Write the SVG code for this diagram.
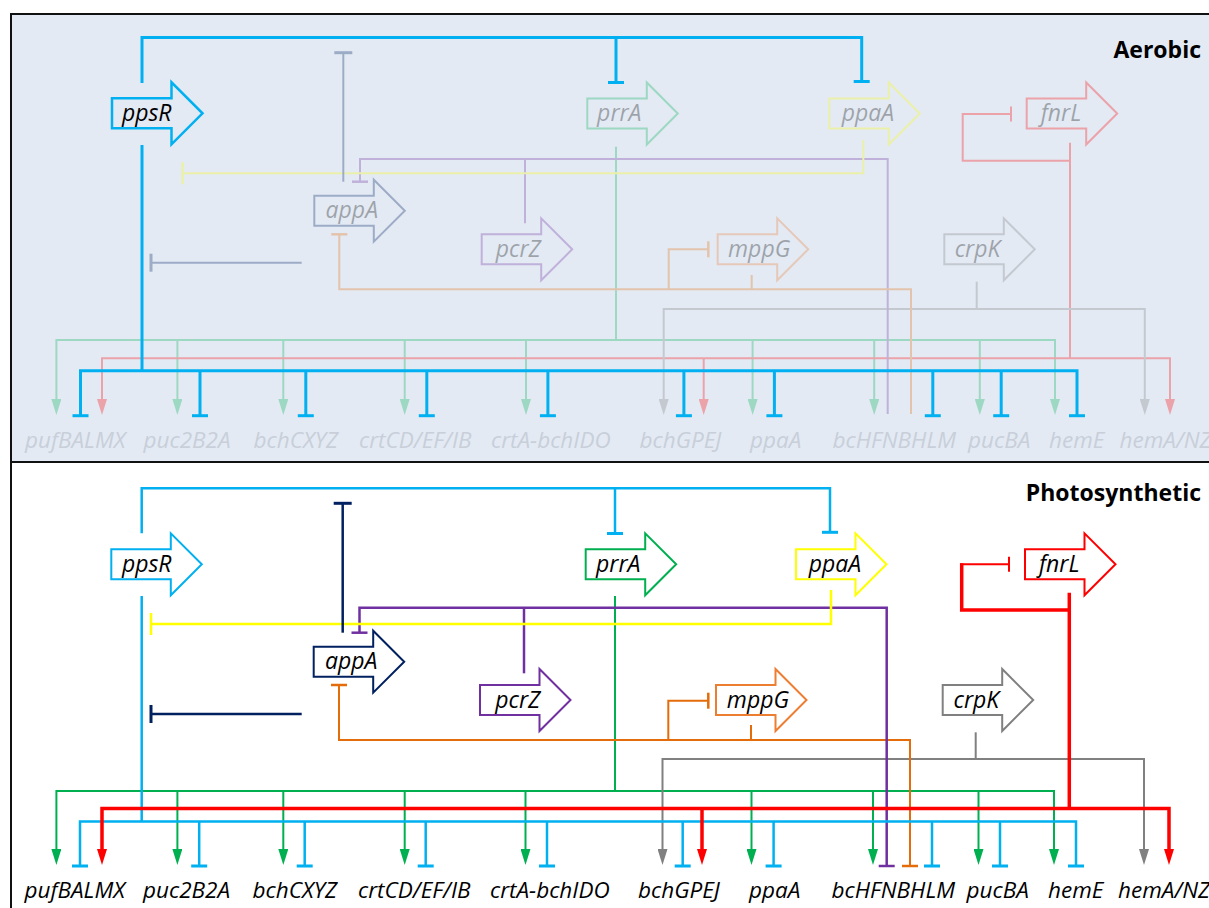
<svg xmlns="http://www.w3.org/2000/svg" width="1209" height="908" viewBox="0 0 1209 908">
<style>
.lbl{font-family:"Open Sans","Noto Sans","DejaVu Sans",sans-serif;font-style:italic;font-size:22.5px}
.nl{font-family:"Open Sans","Noto Sans","DejaVu Sans",sans-serif;font-style:italic;font-size:23px;text-anchor:middle;fill:#000}
.ttl{font-family:"Open Sans","Noto Sans","DejaVu Sans",sans-serif;font-weight:bold;font-size:23px;text-anchor:end;fill:#000}
.ln{fill:none;stroke-width:2}
.nd{fill:none;stroke-width:2}
.faded{opacity:.3}
.b{stroke:#00B0F0}.g{stroke:#00B050}.r{stroke:#FF0000}.k{stroke:#808080}.p{stroke:#7030A0}.o{stroke:#E46C0A}.y{stroke:#FFFF00}.n{stroke:#002060}
.top .lbl{fill:#C8CFD9}
.bot .lbl{fill:#000}
</style>
<defs>
<marker id="aG" viewBox="0 0 16 10" refX="8" refY="5" markerWidth="16" markerHeight="10" markerUnits="userSpaceOnUse" orient="auto-start-reverse"><path d="M0,0L16,5L0,10z" fill="#00B050"/></marker>
<marker id="aR" viewBox="0 0 16 10" refX="8" refY="5" markerWidth="16" markerHeight="10" markerUnits="userSpaceOnUse" orient="auto-start-reverse"><path d="M0,0L16,5L0,10z" fill="#FF0000"/></marker>
<marker id="aK" viewBox="0 0 16 10" refX="8" refY="5" markerWidth="16" markerHeight="10" markerUnits="userSpaceOnUse" orient="auto-start-reverse"><path d="M0,0L16,5L0,10z" fill="#808080"/></marker>
<marker id="tB" viewBox="-2 -9 4 18" refX="0" refY="0" markerWidth="4" markerHeight="18" markerUnits="userSpaceOnUse" orient="auto"><path d="M0,-8V8" stroke="#00B0F0" stroke-width="3"/></marker>
<marker id="tN" viewBox="-2 -10 4 20" refX="0" refY="0" markerWidth="4" markerHeight="20" markerUnits="userSpaceOnUse" orient="auto"><path d="M0,-9V9" stroke="#002060" stroke-width="3"/></marker>
<marker id="tY" viewBox="-2 -12 4 24" refX="0" refY="0" markerWidth="4" markerHeight="24" markerUnits="userSpaceOnUse" orient="auto"><path d="M0,-11V11" stroke="#FFFF00" stroke-width="2.5"/></marker>
<marker id="tP" viewBox="-2 -9 4 18" refX="0" refY="0" markerWidth="4" markerHeight="18" markerUnits="userSpaceOnUse" orient="auto"><path d="M0,-8V8" stroke="#7030A0" stroke-width="2.5"/></marker>
<marker id="tO" viewBox="-2 -9 4 18" refX="0" refY="0" markerWidth="4" markerHeight="18" markerUnits="userSpaceOnUse" orient="auto"><path d="M0,-8V8" stroke="#E46C0A" stroke-width="2.5"/></marker>
<marker id="tR" viewBox="-2 -9 4 18" refX="0" refY="0" markerWidth="4" markerHeight="18" markerUnits="userSpaceOnUse" orient="auto"><path d="M0,-7.5V7.5" stroke="#FF0000" stroke-width="2"/></marker>
</defs>

<!-- panels -->
<rect x="11" y="14" width="1210" height="448" fill="#E3EAF4" stroke="#111" stroke-width="2"/>
<rect x="11" y="462" width="1210" height="460" fill="#FFFFFF" stroke="#111" stroke-width="2"/>
<text class="ttl" x="1201" y="58">Aerobic</text>
<text class="ttl" x="1201" y="501">Photosynthetic</text>

<!-- ================= TOP PANEL (Aerobic) ================= -->
<g class="top">
<g id="top-connectors">
  <g class="faded">
    <g class="ln g">
      <path d="M616,146.7V340"/>
      <path d="M56.4,407V340H1055V407" marker-start="url(#aG)" marker-end="url(#aG)"/>
      <path d="M177.4,340V407" marker-end="url(#aG)"/>
      <path d="M283.3,340V407" marker-end="url(#aG)"/>
      <path d="M404.7,340V407" marker-end="url(#aG)"/>
      <path d="M526,340V407" marker-end="url(#aG)"/>
      <path d="M752.6,340V407" marker-end="url(#aG)"/>
      <path d="M874.2,340V407" marker-end="url(#aG)"/>
      <path d="M979.8,340V407" marker-end="url(#aG)"/>
    </g>
    <g class="ln r">
      <path d="M1070,142.7V358.3"/>
      <path d="M1070,160.7H962.7V114H1011" marker-end="url(#tR)"/>
      <path d="M102,407V358.3H1170V407" marker-start="url(#aR)" marker-end="url(#aR)"/>
      <path d="M703.7,358.3V407" marker-end="url(#aR)"/>
    </g>
    <g class="ln k">
      <path d="M976.7,281.7V309"/>
      <path d="M663.7,407V309H1144.8V407" marker-start="url(#aK)" marker-end="url(#aK)"/>
    </g>
    <g class="ln p">
      <path d="M360,181.7V159H887.7V414" marker-start="url(#tP)"/>
      <path d="M525,223.3V159"/>
    </g>
    <g class="ln o">
      <path d="M339.3,234.3V289.3H911V414" marker-start="url(#tO)"/>
      <path d="M668.7,289.3V249.3H708.3" marker-end="url(#tO)"/>
      <path d="M751.7,275V289.3"/>
    </g>
    <g class="ln y">
      <path d="M863.3,140V173.3H182.7" marker-end="url(#tY)"/>
    </g>
    <g class="ln n">
      <path d="M343.3,181.7V52.7" marker-end="url(#tN)"/>
      <path d="M301.7,262.7H151" marker-end="url(#tN)"/>
    </g>
  </g>
  <g class="ln b" style="stroke-width:3">
    <path d="M142,83V37.5H861.7V81.5" marker-end="url(#tB)"/>
    <path d="M616,37.5V82.5" marker-end="url(#tB)"/>
    <path d="M142,145V370.7"/>
    <path d="M80.5,415.7V370.7H1077V415.7" marker-start="url(#tB)" marker-end="url(#tB)"/>
    <path d="M200,370.7V415.7" marker-end="url(#tB)"/>
    <path d="M305.8,370.7V415.7" marker-end="url(#tB)"/>
    <path d="M426.8,370.7V415.7" marker-end="url(#tB)"/>
    <path d="M547.9,370.7V415.7" marker-end="url(#tB)"/>
    <path d="M683.9,370.7V415.7" marker-end="url(#tB)"/>
    <path d="M774.4,370.7V415.7" marker-end="url(#tB)"/>
    <path d="M932.8,370.7V415.7" marker-end="url(#tB)"/>
    <path d="M1001.2,370.7V415.7" marker-end="url(#tB)"/>
  </g>
</g>

<g id="top-ppsR"><path class="nd b" style="stroke-width:2.5" d="M112,98.3H171.5V82.3L202.5,113.3L171.5,144.3V128.3H112Z"/><text class="nl" x="146.7" y="121">ppsR</text></g>
<g id="top-prrA" class="faded"><path class="nd g" d="M587.3,98.5H646.8V82.5L677.8,113.5L646.8,144.5V128.5H587.3Z"/><text class="nl" x="619.3" y="121.2">prrA</text></g>
<g id="top-ppaA" class="faded"><path class="nd y" d="M829.3,98.5H888.8V82.5L919.8,113.5L888.8,144.5V128.5H829.3Z"/><text class="nl" x="867.9" y="121.2">ppaA</text></g>
<g id="top-fnrL" class="faded"><path class="nd r" d="M1026.7,98.5H1086.2V82.5L1117.2,113.5L1086.2,144.5V128.5H1026.7Z"/><text class="nl" x="1060.9" y="121.2">fnrL</text></g>
<g id="top-appA" class="faded"><path class="nd n" d="M314.3,195.7H373.8V179.7L404.8,210.7L373.8,241.7V225.7H314.3Z"/><text class="nl" x="351.8" y="218.4">appA</text></g>
<g id="top-pcrZ" class="faded"><path class="nd p" d="M481.7,234.3H541.2V218.3L572.2,249.3L541.2,280.3V264.3H481.7Z"/><text class="nl" x="518.3" y="257">pcrZ</text></g>
<g id="top-mppG" class="faded"><path class="nd" stroke="#ED7D31" d="M717.7,234.3H777.2V218.3L808.2,249.3L777.2,280.3V264.3H717.7Z"/><text class="nl" x="759.2" y="257">mppG</text></g>
<g id="top-crpK" class="faded"><path class="nd k" d="M944.3,234.3H1003.8V218.3L1034.8,249.3L1003.8,280.3V264.3H944.3Z"/><text class="nl" x="977.5" y="257">crpK</text></g>

<g id="top-genes">
  <text class="lbl" x="25" y="447.5">pufBALMX</text>
  <text class="lbl" x="143.5" y="447.5">puc2B2A</text>
  <text class="lbl" x="253.5" y="447.5">bchCXYZ</text>
  <text class="lbl" x="359" y="447.5">crtCD/EF/IB</text>
  <text class="lbl" x="491" y="447.5">crtA-bchIDO</text>
  <text class="lbl" x="639.5" y="447.5">bchGPEJ</text>
  <text class="lbl" x="750" y="447.5">ppaA</text>
  <text class="lbl" x="832.5" y="447.5">bcHFNBHLM</text>
  <text class="lbl" x="968" y="447.5">pucBA</text>
  <text class="lbl" x="1049" y="447.5">hemE</text>
  <text class="lbl" x="1119.5" y="447.5">hemA/NZ</text>
</g>
</g>

<!-- ================= BOTTOM PANEL (Photosynthetic) ================= -->
<g class="bot">
<g id="bot-connectors">
  <g class="ln g">
    <path d="M615,596V791"/>
    <path d="M56.4,857V791H1054V857" marker-start="url(#aG)" marker-end="url(#aG)"/>
    <path d="M177.4,791V857" marker-end="url(#aG)"/>
    <path d="M283.3,791V857" marker-end="url(#aG)"/>
    <path d="M404.7,791V857" marker-end="url(#aG)"/>
    <path d="M525.5,791V857" marker-end="url(#aG)"/>
    <path d="M751.5,791V857" marker-end="url(#aG)"/>
    <path d="M873,791V857" marker-end="url(#aG)"/>
    <path d="M978.5,791V857" marker-end="url(#aG)"/>
  </g>
  <g class="ln k">
    <path d="M975.7,732.3V759"/>
    <path d="M662.5,857V759H1144V857" marker-start="url(#aK)" marker-end="url(#aK)"/>
  </g>
  <g class="ln o">
    <path d="M339,685V740H910V866" marker-start="url(#tO)" marker-end="url(#tO)"/>
    <path d="M668.3,740V700.7H708.3" marker-end="url(#tO)"/>
    <path d="M751,725V740"/>
  </g>
  <g class="ln p" style="stroke-width:2.5">
    <path d="M359.5,632.7V607.7H886.7V866" marker-start="url(#tP)" marker-end="url(#tP)"/>
    <path d="M524,673.3V607.7"/>
  </g>
  <g class="ln y" style="stroke-width:2.5">
    <path d="M831,590V624H151" marker-end="url(#tY)"/>
  </g>
  <g class="ln n" style="stroke-width:2.5">
    <path d="M342.7,632.7V503.3" marker-end="url(#tN)"/>
    <path d="M301.7,714H151" marker-end="url(#tN)"/>
  </g>
  <g class="ln b" style="stroke-width:2.5">
    <path d="M141.7,533.3V488.3H830V532.3" marker-end="url(#tB)"/>
    <path d="M615,488.3V533.5" marker-end="url(#tB)"/>
    <path d="M141.7,596V821.5"/>
    <path d="M80,866V821.5H1076V866" marker-start="url(#tB)" marker-end="url(#tB)"/>
    <path d="M199.2,821.5V866" marker-end="url(#tB)"/>
    <path d="M304.7,821.5V866" marker-end="url(#tB)"/>
    <path d="M425.7,821.5V866" marker-end="url(#tB)"/>
    <path d="M547,821.5V866" marker-end="url(#tB)"/>
    <path d="M682.7,821.5V866" marker-end="url(#tB)"/>
    <path d="M773.6,821.5V866" marker-end="url(#tB)"/>
    <path d="M932,821.5V866" marker-end="url(#tB)"/>
    <path d="M1000,821.5V866" marker-end="url(#tB)"/>
  </g>
  <g class="ln r" style="stroke-width:3.5">
    <path d="M1069.3,592.7V808.5"/>
    <path d="M1069.3,610H961.7V563.3"/>
    <path d="M102,857V808.5H1169V857" marker-start="url(#aR)" marker-end="url(#aR)"/>
    <path d="M702,808.5V857" marker-end="url(#aR)"/>
  </g>
  <path class="ln r" d="M960,564.3H1009" marker-end="url(#tR)"/>
</g>

<g id="bot-ppsR"><path class="nd b" d="M111.3,549.3H170.8V533.3L201.8,564.3L170.8,595.3V579.3H111.3Z"/><text class="nl" x="146.7" y="572">ppsR</text></g>
<g id="bot-prrA"><path class="nd g" d="M585.7,549.3H645.2V533.3L676.2,564.3L645.2,595.3V579.3H585.7Z"/><text class="nl" x="618.2" y="572">prrA</text></g>
<g id="bot-ppaA"><path class="nd y" d="M796,549.3H855.5V533.3L886.5,564.3L855.5,595.3V579.3H796Z"/><text class="nl" x="835" y="572">ppaA</text></g>
<g id="bot-fnrL"><path class="nd r" d="M1025,549.3H1084.5V533.3L1115.5,564.3L1084.5,595.3V579.3H1025Z"/><text class="nl" x="1059.2" y="572">fnrL</text></g>
<g id="bot-appA"><path class="nd n" d="M313.7,646.7H373.2V630.7L404.2,661.7L373.2,692.7V676.7H313.7Z"/><text class="nl" x="351.2" y="669.4">appA</text></g>
<g id="bot-pcrZ"><path class="nd p" d="M480,685H539.5V669L570.5,700L539.5,731V715H480Z"/><text class="nl" x="517.8" y="707.7">pcrZ</text></g>
<g id="bot-mppG"><path class="nd" stroke="#ED7D31" d="M716,685H775.5V669L806.5,700L775.5,731V715H716Z"/><text class="nl" x="758" y="707.7">mppG</text></g>
<g id="bot-crpK"><path class="nd k" d="M942.7,685H1002.2V669L1033.2,700L1002.2,731V715H942.7Z"/><text class="nl" x="976.3" y="707.7">crpK</text></g>

<g id="bot-genes">
  <text class="lbl" x="24.5" y="898">pufBALMX</text>
  <text class="lbl" x="143" y="898">puc2B2A</text>
  <text class="lbl" x="252.5" y="898">bchCXYZ</text>
  <text class="lbl" x="358" y="898">crtCD/EF/IB</text>
  <text class="lbl" x="490" y="898">crtA-bchIDO</text>
  <text class="lbl" x="638" y="898">bchGPEJ</text>
  <text class="lbl" x="749" y="898">ppaA</text>
  <text class="lbl" x="831.5" y="898">bcHFNBHLM</text>
  <text class="lbl" x="966.5" y="898">pucBA</text>
  <text class="lbl" x="1048" y="898">hemE</text>
  <text class="lbl" x="1118" y="898">hemA/NZ</text>
</g>
</g>
</svg>
